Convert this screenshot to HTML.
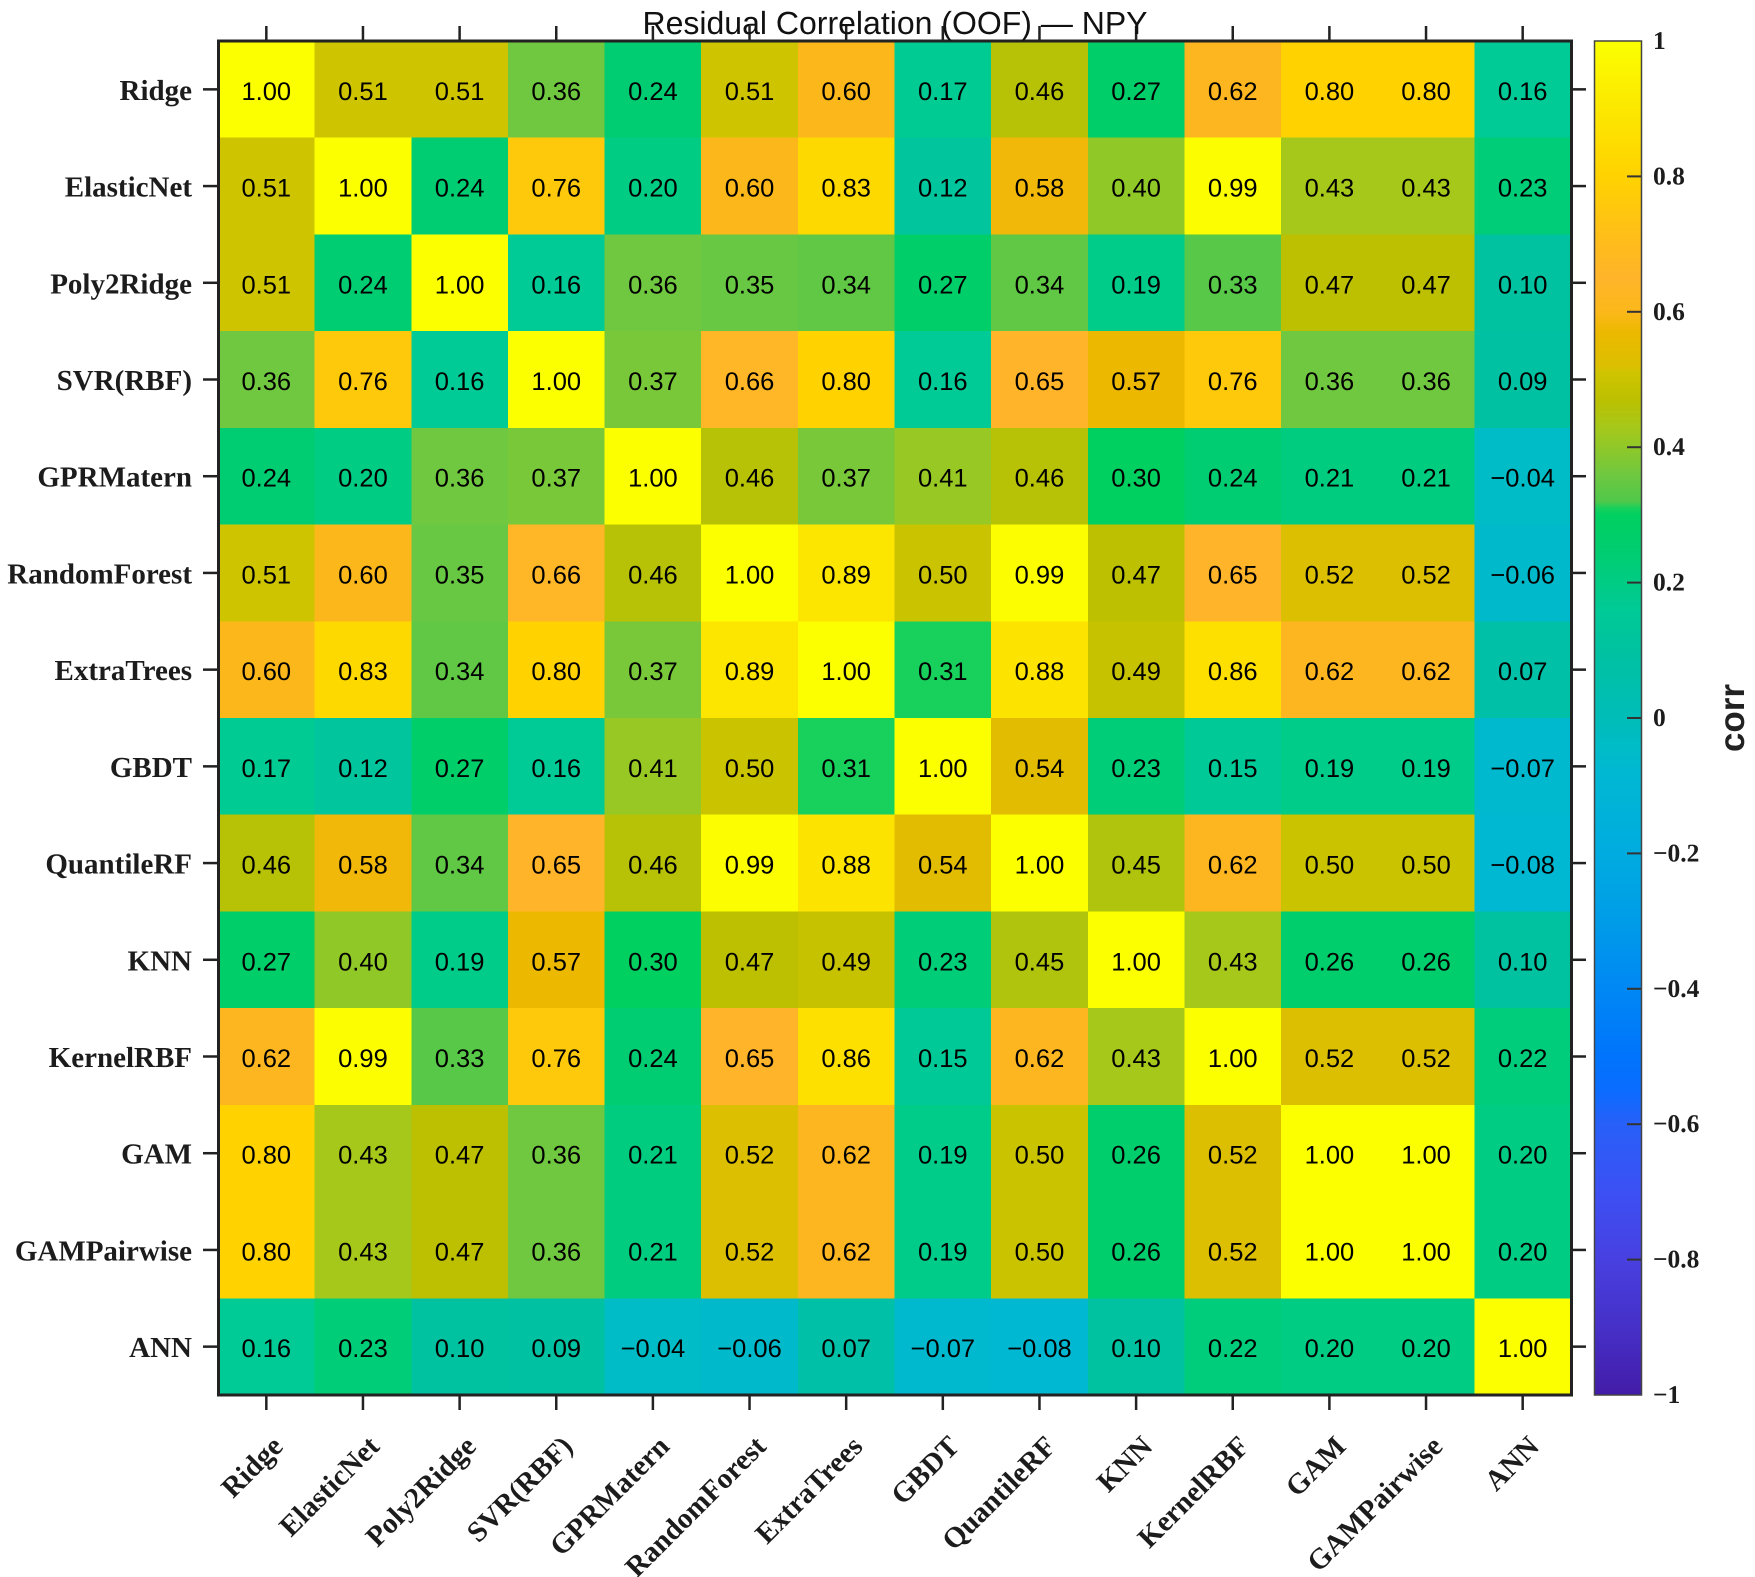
<!DOCTYPE html>
<html lang="en">
<head>
<meta charset="utf-8">
<title>Residual Correlation (OOF) — NPY</title>
<style>
  html, body { margin: 0; padding: 0; background: #fff; }
  body { width: 1755px; height: 1577px; overflow: hidden; }
  svg { display: block; text-rendering: geometricPrecision; }
  .cell-text { font-family: "Liberation Sans", sans-serif; font-size: 25.5px; fill: #000; text-anchor: middle; }
  .axis-label { font-family: "Liberation Serif", serif; font-weight: bold; font-size: 29px; fill: #1c1c1c; }
  .cb-label { font-family: "Liberation Serif", serif; font-weight: bold; font-size: 25.5px; fill: #1c1c1c; }
</style>
</head>
<body>
<svg id="chart" xmlns="http://www.w3.org/2000/svg" width="1755" height="1577" viewBox="0 0 1755 1577">
  <defs>
    <linearGradient id="cb-gradient" x1="0" y1="1" x2="0" y2="0"></linearGradient>
  </defs>
  <rect x="0" y="0" width="1755" height="1577" fill="#ffffff"/>
  <g id="cells" shape-rendering="crispEdges"></g>
  <g id="cell-labels"></g>
  <g id="ticks"></g>
  <rect x="218.5" y="41" width="1353" height="1354" fill="none" stroke="#222" stroke-width="3"/>
  <g id="tick-labels"></g>
  <text x="895" y="34" text-anchor="middle" font-family="'Liberation Sans', sans-serif" font-size="32" fill="#111">Residual Correlation (OOF) — NPY</text>
  <rect x="1594.5" y="41" width="47" height="1354" fill="url(#cb-gradient)" stroke="#444" stroke-width="1.5"/>
  <g id="cb-ticks"></g>
  <text transform="translate(1744,718) rotate(-90)" text-anchor="middle" font-family="'Liberation Sans', sans-serif" font-weight="bold" font-size="35" fill="#222">corr</text>
</svg>
<script>
const categories = ["Ridge","ElasticNet","Poly2Ridge","SVR(RBF)","GPRMatern","RandomForest","ExtraTrees","GBDT","QuantileRF","KNN","KernelRBF","GAM","GAMPairwise","ANN"];
const rowRidge = [1.00,0.51,0.51,0.36,0.24,0.51,0.60,0.17,0.46,0.27,0.62,0.80,0.80,0.16];
const rowElasticNet = [0.51,1.00,0.24,0.76,0.20,0.60,0.83,0.12,0.58,0.40,0.99,0.43,0.43,0.23];
const rowPoly2Ridge = [0.51,0.24,1.00,0.16,0.36,0.35,0.34,0.27,0.34,0.19,0.33,0.47,0.47,0.10];
const rowSVR = [0.36,0.76,0.16,1.00,0.37,0.66,0.80,0.16,0.65,0.57,0.76,0.36,0.36,0.09];
const rowGPRMatern = [0.24,0.20,0.36,0.37,1.00,0.46,0.37,0.41,0.46,0.30,0.24,0.21,0.21,-0.04];
const rowRandomForest = [0.51,0.60,0.35,0.66,0.46,1.00,0.89,0.50,0.99,0.47,0.65,0.52,0.52,-0.06];
const rowExtraTrees = [0.60,0.83,0.34,0.80,0.37,0.89,1.00,0.31,0.88,0.49,0.86,0.62,0.62,0.07];
const rowGBDT = [0.17,0.12,0.27,0.16,0.41,0.50,0.31,1.00,0.54,0.23,0.15,0.19,0.19,-0.07];
const rowQuantileRF = [0.46,0.58,0.34,0.65,0.46,0.99,0.88,0.54,1.00,0.45,0.62,0.50,0.50,-0.08];
const rowKNN = [0.27,0.40,0.19,0.57,0.30,0.47,0.49,0.23,0.45,1.00,0.43,0.26,0.26,0.10];
const rowKernelRBF = [0.62,0.99,0.33,0.76,0.24,0.65,0.86,0.15,0.62,0.43,1.00,0.52,0.52,0.22];
const rowGAM = [0.80,0.43,0.47,0.36,0.21,0.52,0.62,0.19,0.50,0.26,0.52,1.00,1.00,0.20];
const rowGAMPairwise = [0.80,0.43,0.47,0.36,0.21,0.52,0.62,0.19,0.50,0.26,0.52,1.00,1.00,0.20];
const rowANN = [0.16,0.23,0.10,0.09,-0.04,-0.06,0.07,-0.07,-0.08,0.10,0.22,0.20,0.20,1.00];
const matrix = [rowRidge,rowElasticNet,rowPoly2Ridge,rowSVR,rowGPRMatern,rowRandomForest,rowExtraTrees,rowGBDT,rowQuantileRF,rowKNN,rowKernelRBF,rowGAM,rowGAMPairwise,rowANN];
const colorbarTicks = [1,0.8,0.6,0.4,0.2,0,-0.2,-0.4,-0.6,-0.8,-1];

const SVGNS = "http://www.w3.org/2000/svg";
const plot = { left: 218, right: 1571, top: 41, bottom: 1395 };
const bar = { left: 1594, right: 1641, top: 41, bottom: 1395 };
const colormapStops = [
  [-1,"#431ca8"],[-0.9,"#4630c8"],[-0.8,"#4840e0"],[-0.7,"#3c50f4"],[-0.6,"#2860f8"],
  [-0.55,"#0a6cff"],[-0.5,"#0074fc"],[-0.4,"#0088f4"],[-0.3,"#009ce8"],[-0.2,"#00acdf"],
  [-0.08,"#00b8d2"],[-0.04,"#00bcc6"],[0,"#00bdb8"],[0.1,"#00c2a0"],[0.16,"#00ca96"],
  [0.2,"#00cc84"],[0.24,"#00cd72"],[0.3,"#00d060"],[0.31,"#18d05c"],[0.32,"#50c84a"],
  [0.36,"#70c840"],[0.4,"#90c828"],[0.43,"#a6c81a"],[0.47,"#bcc000"],[0.51,"#cfc400"],
  [0.52,"#dcbf00"],[0.57,"#ecb800"],[0.6,"#fcb81a"],[0.65,"#ffb42a"],[0.7,"#ffbc1c"],
  [0.8,"#ffd200"],[0.9,"#fce800"],[1,"#fbff00"]
];

function xScale(i) { return plot.left + (i + 0.5) * (plot.right - plot.left) / categories.length; }
function yScale(i) { return plot.top + (i + 0.5) * (plot.bottom - plot.top) / categories.length; }
function cellW() { return (plot.right - plot.left) / categories.length; }
function cellH() { return (plot.bottom - plot.top) / categories.length; }
function barScale(v) { return bar.bottom - (v + 1) / 2 * (bar.bottom - bar.top); }
function hexToRgb(h) { return [parseInt(h.slice(1,3),16), parseInt(h.slice(3,5),16), parseInt(h.slice(5,7),16)]; }
function colorFor(v) {
  const s = colormapStops;
  if (v <= s[0][0]) return s[0][1];
  for (let i = 1; i < s.length; i++) {
    if (v <= s[i][0]) {
      const t = (v - s[i-1][0]) / (s[i][0] - s[i-1][0]);
      const a = hexToRgb(s[i-1][1]), b = hexToRgb(s[i][1]);
      return "rgb(" + a.map((c, k) => Math.round(c + (b[k] - c) * t)).join(",") + ")";
    }
  }
  return s[s.length - 1][1];
}
function fmt(v, digits) {
  const str = digits === null ? String(Math.abs(v)) : Math.abs(v).toFixed(digits);
  return (v < 0 ? "\u2212" : "") + str;
}
function mk(tag, attrs, parent) {
  const el = document.createElementNS(SVGNS, tag);
  for (const k in attrs) el.setAttribute(k, attrs[k]);
  parent.appendChild(el);
  return el;
}

const cellsG = document.getElementById("cells");
const cellLabelsG = document.getElementById("cell-labels");
const ticksG = document.getElementById("ticks");
const tickLabelsG = document.getElementById("tick-labels");
const cbTicksG = document.getElementById("cb-ticks");
const grad = document.getElementById("cb-gradient");

colormapStops.forEach(function (s) {
  mk("stop", { offset: ((s[0] + 1) / 2).toFixed(4), "stop-color": s[1] }, grad);
});

matrix.forEach(function (row, r) {
  row.forEach(function (v, c) {
    const rect = mk("rect", {
      x: (xScale(c) - cellW() / 2).toFixed(2),
      y: (yScale(r) - cellH() / 2).toFixed(2),
      width: (cellW() + 0.5).toFixed(2),
      height: (cellH() + 0.5).toFixed(2),
      fill: colorFor(v)
    }, cellsG);
    
    
    const t = mk("text", {
      x: xScale(c).toFixed(2),
      y: (yScale(r) + 10.5).toFixed(2),
      "class": "cell-text"
    }, cellLabelsG);
    t.textContent = fmt(v, 2);
    
    
  });
});

function tickLine(x1, y1, x2, y2, parent, w, color) {
  const l = mk("line", { x1: x1, y1: y1, x2: x2, y2: y2, stroke: color, "stroke-width": w }, parent);
  
  
  return l;
}

categories.forEach(function (name, i) {
  const x = xScale(i), y = yScale(i);
  tickLine(x, plot.top - 15, x, plot.top, ticksG, 2.5, "#222");
  tickLine(x, plot.bottom, x, plot.bottom + 15, ticksG, 2.5, "#222");
  tickLine(plot.left - 15, y, plot.left, y, ticksG, 2.5, "#222");
  tickLine(plot.right, y, plot.right + 15, y, ticksG, 2.5, "#222");

  const yl = mk("text", { x: 192, y: (y + 10.5).toFixed(2), "text-anchor": "end", "class": "axis-label" }, tickLabelsG);
  yl.textContent = name;
  
  

  const xl = mk("text", {
    transform: "translate(" + (x + 18).toFixed(2) + ",1448) rotate(-45)",
    "text-anchor": "end",
    "class": "axis-label"
  }, tickLabelsG);
  xl.textContent = name;
  
  
});

colorbarTicks.forEach(function (v) {
  const y = barScale(v);
  if (v !== 1 && v !== -1) tickLine(bar.right - 14, y, bar.right, y, cbTicksG, 2, "#333");
  const t = mk("text", { x: 1653, y: (y + 8).toFixed(2), "class": "cb-label" }, cbTicksG);
  t.textContent = fmt(v, null);
  
  
});
</script>
</body>
</html>
